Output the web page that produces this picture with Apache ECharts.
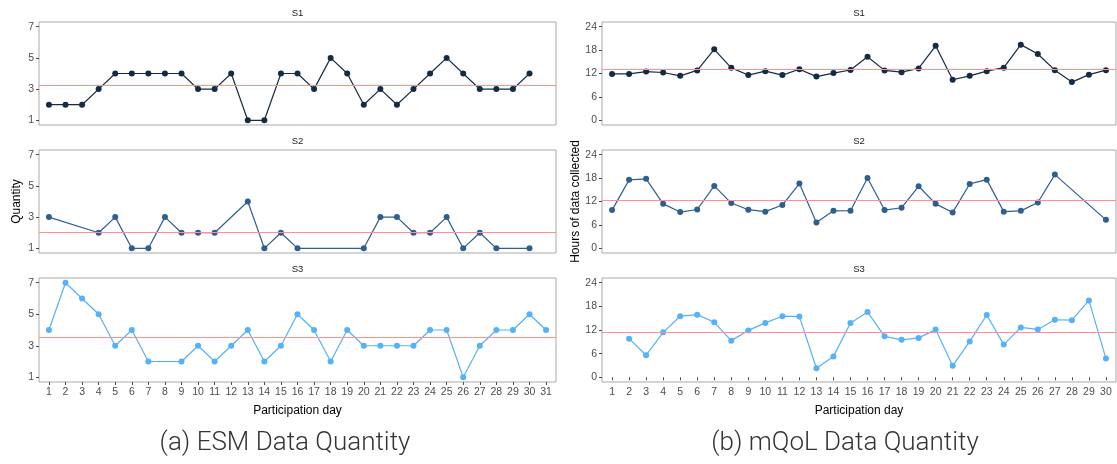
<!DOCTYPE html>
<html>
<head>
<meta charset="utf-8">
<script src="https://cdn.jsdelivr.net/npm/echarts@6/dist/echarts.min.js"></script>
<style>
  html, body { margin: 0; padding: 0; background: #ffffff; }
  #chart { width: 1117px; height: 464px; }
</style>
</head>
<body>
<div id="chart"></div>
<script>
// ---- Data ----
const esmDays = [1,2,3,4,5,6,7,8,9,10,11,12,13,14,15,16,17,18,19,20,21,22,23,24,25,26,27,28,29,30,31];
const mqolDays = [1,2,3,4,5,6,7,8,9,10,11,12,13,14,15,16,17,18,19,20,21,22,23,24,25,26,27,28,29,30];
const panelLabels = ['S1', 'S2', 'S3'];

// ESM quantity per participation day (null = no data that day)
const esmS1 = [2,2,2,3,4,4,4,4,4,3,3,4,1,1,4,4,3,5,4,2,3,2,3,4,5,4,3,3,3,4,null];
const esmS2 = [3,null,null,2,3,1,1,3,2,2,2,null,4,1,2,1,null,null,null,1,3,3,2,2,3,1,2,1,null,1,null];
const esmS3 = [4,7,6,5,3,4,2,null,2,3,2,3,4,2,3,5,4,2,4,3,3,3,3,4,4,1,3,4,4,5,4];
const esmMeans = [3.23, 2.0, 3.53];

// mQoL hours of data collected per participation day
const mqolS1 = [11.9,11.9,12.5,12.25,11.4,12.8,18.2,13.45,11.6,12.6,11.6,13.1,11.2,12.1,12.9,16.3,12.8,12.35,13.3,19.1,10.4,11.4,12.6,13.5,19.4,17.0,12.85,9.8,11.7,12.85];
const mqolS2 = [9.8,17.55,17.8,11.4,9.3,9.95,16.0,11.6,9.9,9.4,11.1,16.6,6.6,9.6,9.65,18.0,9.8,10.4,15.9,11.4,9.2,16.5,17.6,9.4,9.6,11.75,18.9,null,null,7.3];
const mqolS3 = [null,9.8,5.6,11.4,15.5,15.9,13.95,9.3,11.9,13.8,15.5,15.4,2.3,5.3,13.8,16.6,10.4,9.5,10.0,12.1,2.9,9.1,15.8,8.3,12.65,12.15,14.6,14.5,19.5,4.75];
const mqolMeans = [13.2, 12.2, 11.5];

const esmYTicks = [1,3,5,7];
const mqolYTicks = [0,6,12,18,24];

const seriesColors = ['#132b43', '#2f5f8e', '#56b1f7'];

// ---- Build chart ----
const chart = echarts.init(document.getElementById('chart'), null, {renderer: 'canvas'});
const FONT = "'Liberation Sans', Arial, sans-serif";

const tops = [22, 150, 278];
const heights = [103, 103, 104];
const grids = [], xAxes = [], yAxes = [], series = [], graphics = [];

function pairs(days, vals) {
  const out = [];
  for (let i = 0; i < days.length; i++) {
    if (vals[i] !== null && vals[i] !== undefined) out.push([days[i], vals[i]]);
  }
  return out;
}

const sides = [
  {left: 39, right: 1117 - 556, days: esmDays, data: [esmS1, esmS2, esmS3], means: esmMeans,
   xmin: 0.4, xmax: 31.6, ymin: 0.7, ymax: 7.3, yticks: esmYTicks, yname: 'Quantity', ygap: 16},
  {left: 602, right: 1, days: mqolDays, data: [mqolS1, mqolS2, mqolS3], means: mqolMeans,
   xmin: 0.41, xmax: 30.59, ymin: -1.2, ymax: 25.2, yticks: mqolYTicks, yname: 'Hours of data collected', ygap: 19}
];

sides.forEach((s, si) => {
  for (let p = 0; p < 3; p++) {
    const gi = grids.length;
    grids.push({left: s.left, right: s.right, top: tops[p], height: heights[p],
      show: true, borderColor: '#a9a9a9', borderWidth: 1, backgroundColor: '#ffffff'});
    const last = p === 2;
    xAxes.push({
      type: 'value', gridIndex: gi, min: s.xmin, max: s.xmax,
      axisLine: {show: false},
      splitLine: {show: false},
      axisTick: {show: last, length: 3, lineStyle: {color: '#4d4d4d'}, customValues: s.days},
      axisLabel: {show: last, customValues: s.days, color: '#4d4d4d', fontSize: 10.5, fontFamily: FONT, margin: 5},
      name: last ? 'Participation day' : '', nameLocation: 'middle', nameGap: 23,
      nameTextStyle: {color: '#000', fontSize: 12, fontFamily: FONT}
    });
    yAxes.push({
      type: 'value', gridIndex: gi, min: s.ymin, max: s.ymax,
      axisLine: {show: false},
      splitLine: {show: false},
      axisTick: {show: true, length: 3, lineStyle: {color: '#4d4d4d'}, customValues: s.yticks},
      axisLabel: {customValues: s.yticks, color: '#4d4d4d', fontSize: 10.5, fontFamily: FONT, margin: 5},
      name: p === 1 ? s.yname : '', nameLocation: 'middle', nameGap: s.ygap,
      nameTextStyle: {color: '#000', fontSize: 12, fontFamily: FONT}
    });
    // mean reference line (drawn beneath the data)
    series.push({
      type: 'line', xAxisIndex: gi, yAxisIndex: gi, data: [],
      animation: false, silent: true, z: 1,
      markLine: {
        silent: true, symbol: ['none', 'none'], animation: false,
        label: {show: false},
        lineStyle: {color: '#ff9090', width: 1.2, type: 'solid'},
        data: [{yAxis: s.means[p]}]
      }
    });
    series.push({
      type: 'line', xAxisIndex: gi, yAxisIndex: gi,
      data: pairs(s.days, s.data[p]),
      symbol: 'circle', symbolSize: 6, showSymbol: true,
      lineStyle: {color: seriesColors[p], width: 1.2},
      itemStyle: {color: seriesColors[p]},
      animation: false, silent: true, z: 3
    });
    // strip label
    const W = 1117 - s.left - s.right;
    graphics.push({
      type: 'text', x: s.left + W / 2, y: tops[p] - 9,
      style: {text: panelLabels[p], fill: '#222', font: '9.5px ' + FONT, textAlign: 'center', textVerticalAlign: 'middle'}
    });
  }
});

graphics.push({type: 'text', x: 285, y: 443,
  style: {text: '(a) ESM Data Quantity', fill: '#333', font: '300 26px Roboto, sans-serif', textAlign: 'center', textVerticalAlign: 'middle'}});
graphics.push({type: 'text', x: 845, y: 443,
  style: {text: '(b) mQoL Data Quantity', fill: '#333', font: '300 26px Roboto, sans-serif', textAlign: 'center', textVerticalAlign: 'middle'}});

chart.setOption({
  backgroundColor: '#ffffff',
  animation: false,
  grid: grids,
  xAxis: xAxes,
  yAxis: yAxes,
  series: series,
  graphic: graphics
});
</script>
</body>
</html>
